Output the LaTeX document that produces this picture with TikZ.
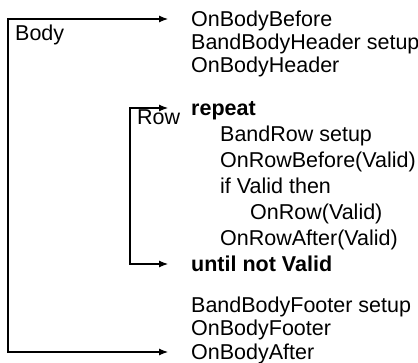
\documentclass[tikz,border=0pt]{standalone}
\usepackage{fontspec}
\setmainfont{Liberation Sans}
\usepackage{tikz}
\usetikzlibrary{arrows.meta}

\tikzset{
  line/.style={anchor=west, inner sep=0pt, text height=15.4pt, text depth=0pt,
    font=\fontsize{21.5}{25}\selectfont},
  kw/.style={line, font=\fontsize{21.5}{25}\selectfont\bfseries},
  loop/.style={line width=1.1pt, line join=miter,
    {Latex[length=9pt,width=7pt]}-{Latex[length=9pt,width=7pt]},
    shorten <=23pt, shorten >=23pt},
}

\begin{document}
\begin{tikzpicture}[x=1pt,y=-1pt]
				\useasboundingbox (0,0) rectangle (418,363);
				\node[line] (before) at (191,19) {OnBodyBefore};
				\node[line] (hdrsetup) at (191,42) {BandBodyHeader setup};
				\node[line] (header) at (191,65) {OnBodyHeader};
				\node[kw] (repeat) at (191,108) {repeat};
				\node[line] (rowsetup) at (220,134) {BandRow setup};
				\node[line] (rowbefore) at (220,160) {OnRowBefore(Valid)};
				\node[line] (ifvalid) at (220,186) {if Valid then};
				\node[line] (onrow) at (250,212) {OnRow(Valid)};
				\node[line] (rowafter) at (220,238) {OnRowAfter(Valid)};
				\node[kw] (until) at (191,264) {until not Valid};
				\node[line] (ftrsetup) at (191,305) {BandBodyFooter setup};
				\node[line] (footer) at (191,328) {OnBodyFooter};
				\node[line] (after) at (191,352) {OnBodyAfter};
				\node[line] (body) at (15,33) {Body};
				\node[line] (row) at (137,117) {Row};
				\coordinate (bodytop) at (8,19);
				\coordinate (bodybot) at (8,352);
				\coordinate (rowtop) at (130,108);
				\coordinate (rowbot) at (130,264);
				\draw[loop] (before.west) -- (bodytop) -- (bodybot) -- (after.west);
				\draw[loop] (repeat.west) -- (rowtop) -- (rowbot) -- (until.west);
			\end{tikzpicture}
\end{document}
